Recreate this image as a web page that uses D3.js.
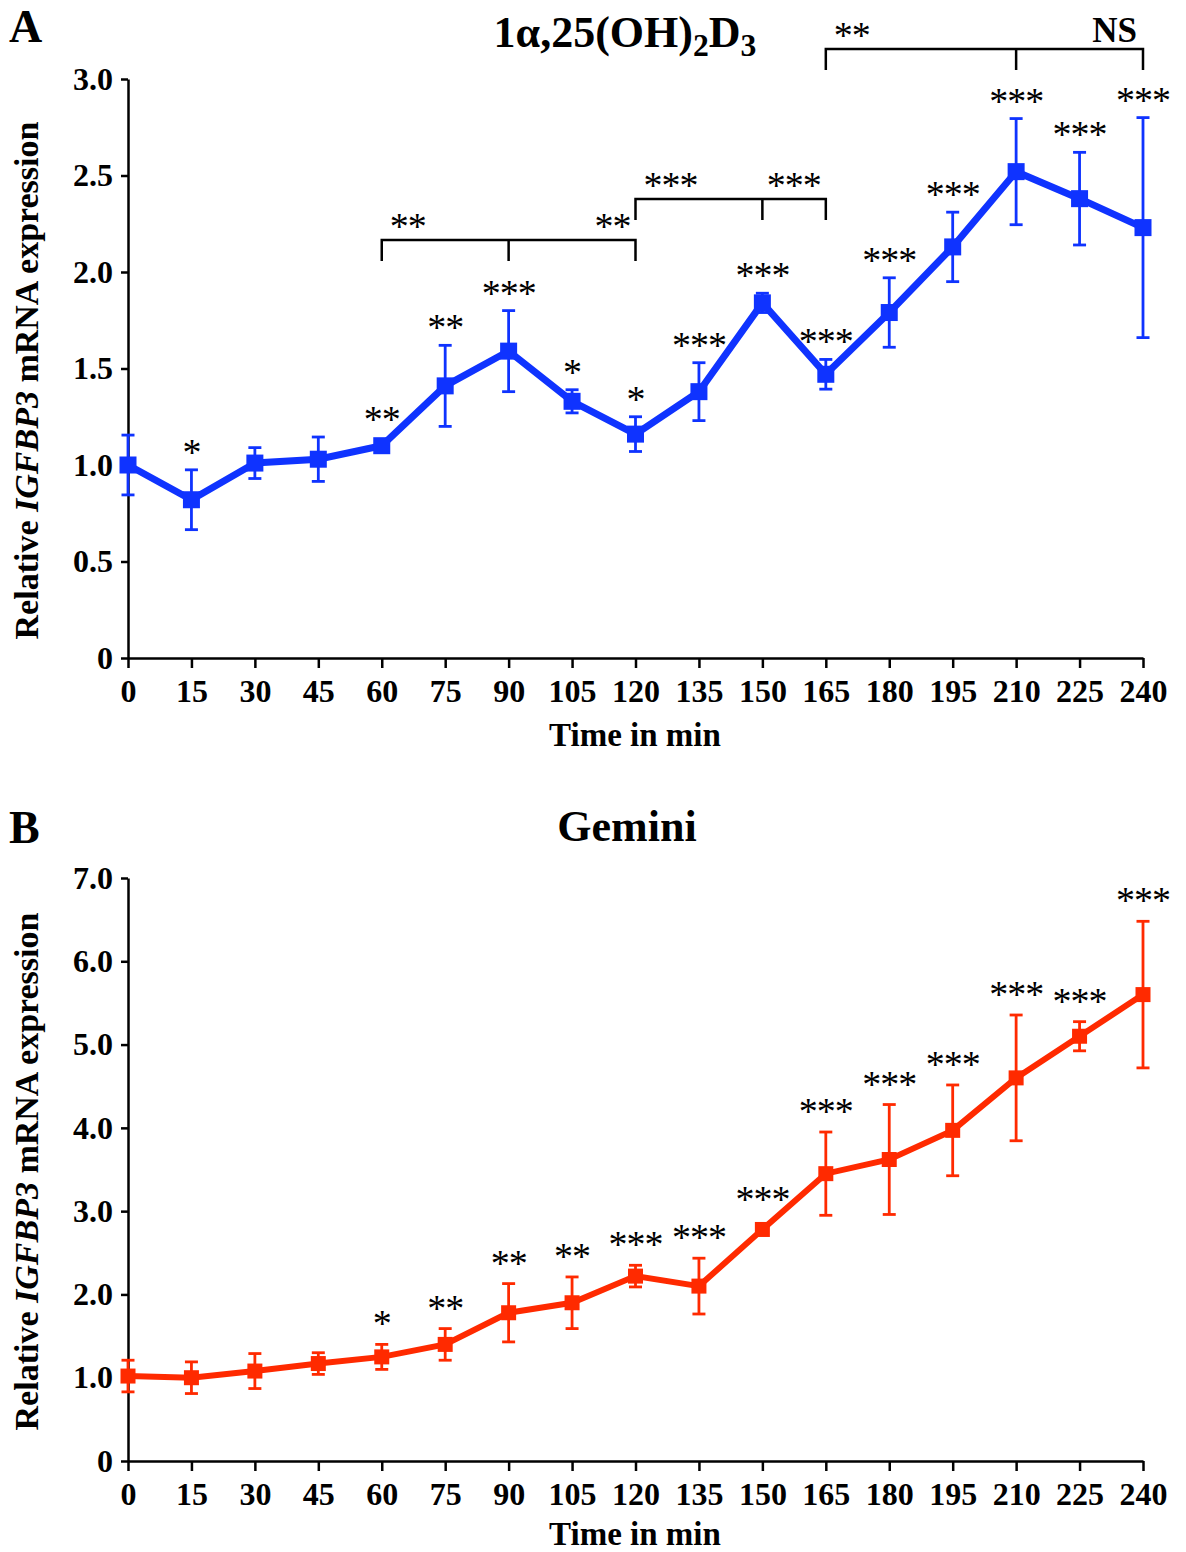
<!DOCTYPE html>
<html lang="en">
<head>
<meta charset="utf-8"/>
<title>IGFBP3 time course</title>
<script src="https://d3js.org/d3.v7.min.js"></script>
<style>
  body { margin: 0; background: #fff; }
  text { font-family: "Liberation Serif", "Times New Roman", serif; }
  .star { font-size: 38px; letter-spacing: -1px; }
</style>
</head>
<body>
<script>

// time points (min)
var times = [0, 15, 30, 45, 60, 75, 90, 105, 120, 135, 150, 165, 180, 195, 210, 225, 240];

// panel A: 1a,25(OH)2D3
var calMean = [1.00, 0.82, 1.01, 1.03, 1.10, 1.41, 1.59, 1.33, 1.16, 1.38, 1.84, 1.47, 1.79, 2.13, 2.52, 2.38, 2.23];
var calErr  = [0.155, 0.155, 0.08, 0.115, 0.03, 0.21, 0.21, 0.06, 0.09, 0.15, 0.05, 0.077, 0.18, 0.18, 0.275, 0.24, 0.57];
var calSig  = ["", "*", "", "", "**", "**", "***", "*", "*", "***", "***", "***", "***", "***", "***", "***", "***"];
var calTicks = [0, 0.5, 1.0, 1.5, 2.0, 2.5, 3.0];
var calBrackets = [
  {from: 60,  mid: 90,  to: 120, level: 2.166, left: "**",  right: "**"},
  {from: 120, mid: 150, to: 165, level: 2.378, left: "***", right: "***"},
  {from: 165, mid: 210, to: 240, level: 3.155, left: "**",  right: "NS"}
];

// panel B: Gemini
var gemMean = [1.02, 1.00, 1.08, 1.17, 1.25, 1.40, 1.78, 1.90, 2.22, 2.10, 2.78, 3.45, 3.62, 3.97, 4.60, 5.10, 5.60];
var gemErr  = [0.19, 0.19, 0.21, 0.13, 0.15, 0.19, 0.35, 0.31, 0.13, 0.335, 0.04, 0.50, 0.66, 0.545, 0.755, 0.175, 0.88];
var gemSig  = ["", "", "", "", "*", "**", "**", "**", "***", "***", "***", "***", "***", "***", "***", "***", "***"];
var gemTicks = [0, 1, 2, 3, 4, 5, 6, 7];

var width = 1186, height = 1552;

var svg = d3.select("body").append("svg")
    .attr("width", width)
    .attr("height", height);

function tickFmt(d) { return d === 0 ? "0" : d3.format(".1f")(d); }

function drawPanel(p) {
  var x = d3.scaleLinear().domain([0, 240]).range([128, 1143]);
  var y = d3.scaleLinear().domain([0, p.max]).range([p.bottom, p.top]);
  var g = svg.append("g");

  // axes
  var xAxis = d3.axisBottom(x).tickValues(times).tickSize(10).tickSizeOuter(0).tickPadding(11);
  var gx = g.append("g").attr("transform", "translate(0," + p.bottom + ")").call(xAxis);
  var yAxis = d3.axisLeft(y).tickValues(p.ticks).tickFormat(tickFmt).tickSize(7).tickSizeOuter(0).tickPadding(8);
  var gy = g.append("g").attr("transform", "translate(128,0)").call(yAxis);
  [gx, gy].forEach(function (a) {
    a.select(".domain").attr("stroke", "#000").attr("stroke-width", 2.5);
    a.selectAll(".tick line").attr("stroke", "#000").attr("stroke-width", 2.5);
    a.selectAll(".tick text")
      .attr("fill", "#000")
      .style("font-size", "32px")
      .style("font-weight", "bold");
  });

  // axis titles
  g.append("text")
    .attr("x", 635).attr("y", p.bottom + p.xlY)
    .attr("text-anchor", "middle")
    .style("font-size", "33px").style("font-weight", "bold")
    .text("Time in min");

  var yl = g.append("text")
    .attr("transform", "translate(38," + ((p.top + p.bottom) / 2 + p.ylShift) + ") rotate(-90)")
    .attr("text-anchor", "middle")
    .style("font-size", "34px").style("font-weight", "bold");
  yl.append("tspan").text("Relative ");
  yl.append("tspan").style("font-style", "italic").text("IGFBP3");
  yl.append("tspan").text(" mRNA expression");

  // panel letter
  g.append("text")
    .attr("x", 9).attr("y", p.letterY)
    .style("font-size", "46px").style("font-weight", "bold")
    .text(p.letter);

  // title
  var t = g.append("text")
    .attr("x", p.titleX).attr("y", p.titleY)
    .attr("text-anchor", "middle")
    .style("font-size", p.titleSize + "px").style("font-weight", "bold");
  p.title.forEach(function (part) {
    var s = t.append("tspan").text(part.t);
    if (part.sub) s.attr("dy", 9).style("font-size", "0.72em");
    if (part.back) s.attr("dy", -9);
  });

  var pts = times.map(function (tm, i) {
    return {t: tm, m: p.mean[i], e: p.err[i], s: p.sig[i]};
  });

  // error bars
  var eb = g.append("g").attr("stroke", p.color).attr("stroke-width", 2.8);
  pts.forEach(function (d) {
    var cx = x(d.t);
    eb.append("line").attr("x1", cx).attr("x2", cx).attr("y1", y(d.m + d.e)).attr("y2", y(d.m - d.e));
    eb.append("line").attr("x1", cx - 6.5).attr("x2", cx + 6.5).attr("y1", y(d.m + d.e)).attr("y2", y(d.m + d.e));
    eb.append("line").attr("x1", cx - 6.5).attr("x2", cx + 6.5).attr("y1", y(d.m - d.e)).attr("y2", y(d.m - d.e));
  });

  // line
  var line = d3.line().x(function (d) { return x(d.t); }).y(function (d) { return y(d.m); });
  g.append("path").datum(pts)
    .attr("d", line)
    .attr("fill", "none")
    .attr("stroke", p.color)
    .attr("stroke-width", p.lineW)
    .attr("stroke-linejoin", "miter");

  // markers
  g.selectAll(".mk").data(pts).enter().append("rect")
    .attr("x", function (d) { return x(d.t) - p.mk / 2; })
    .attr("y", function (d) { return y(d.m) - p.mk / 2; })
    .attr("width", p.mk).attr("height", p.mk)
    .attr("fill", p.color);

  // significance stars
  g.selectAll(".sig").data(pts.filter(function (d) { return d.s; })).enter().append("text")
    .attr("class", "star")
    .attr("x", function (d) { return x(d.t); })
    .attr("y", function (d) { return Math.min(y(d.m + d.e), y(d.m) - 9) - p.gap; })
    .attr("text-anchor", "middle")
    .text(function (d) { return d.s; });

  // comparison brackets
  (p.brackets || []).forEach(function (b) {
    var yy = y(b.level);
    g.append("path")
      .attr("d", "M" + x(b.from) + "," + (yy + 21) + "V" + yy + "H" + x(b.to) + "V" + (yy + 21) +
                 "M" + x(b.mid) + "," + yy + "V" + (yy + 21))
      .attr("fill", "none").attr("stroke", "#000").attr("stroke-width", 2.5);
    g.append("text").attr("class", "star").attr("x", x(b.from) + 8).attr("y", yy - 1)
      .text(b.left);
    var r = g.append("text").attr("x", x(b.to) - 6).attr("text-anchor", "end").text(b.right);
    if (b.right === "NS") r.attr("y", yy - 7).style("font-size", "35px").style("font-weight", "bold");
    else r.attr("class", "star").attr("y", yy - 1).attr("x", x(b.to) - 5);
  });
}

drawPanel({
  letter: "A", letterY: 42,
  title: [{t: "1α,25(OH)"}, {t: "2", sub: true}, {t: "D", back: true}, {t: "3", sub: true}],
  titleX: 625, titleY: 47, titleSize: 44,
  max: 3.0, top: 79, bottom: 658, ticks: calTicks,
  mean: calMean, err: calErr, sig: calSig, brackets: calBrackets,
  color: "#0f33ff", lineW: 7, mk: 17, gap: 5, ylShift: 12, xlY: 88
});

drawPanel({
  letter: "B", letterY: 843,
  title: [{t: "Gemini"}],
  titleX: 627, titleY: 841, titleSize: 44,
  max: 7.0, top: 878, bottom: 1461, ticks: gemTicks,
  mean: gemMean, err: gemErr, sig: gemSig,
  color: "#ff2a00", lineW: 6, mk: 15, gap: 8, ylShift: 2, xlY: 84
});

</script>
</body>
</html>
